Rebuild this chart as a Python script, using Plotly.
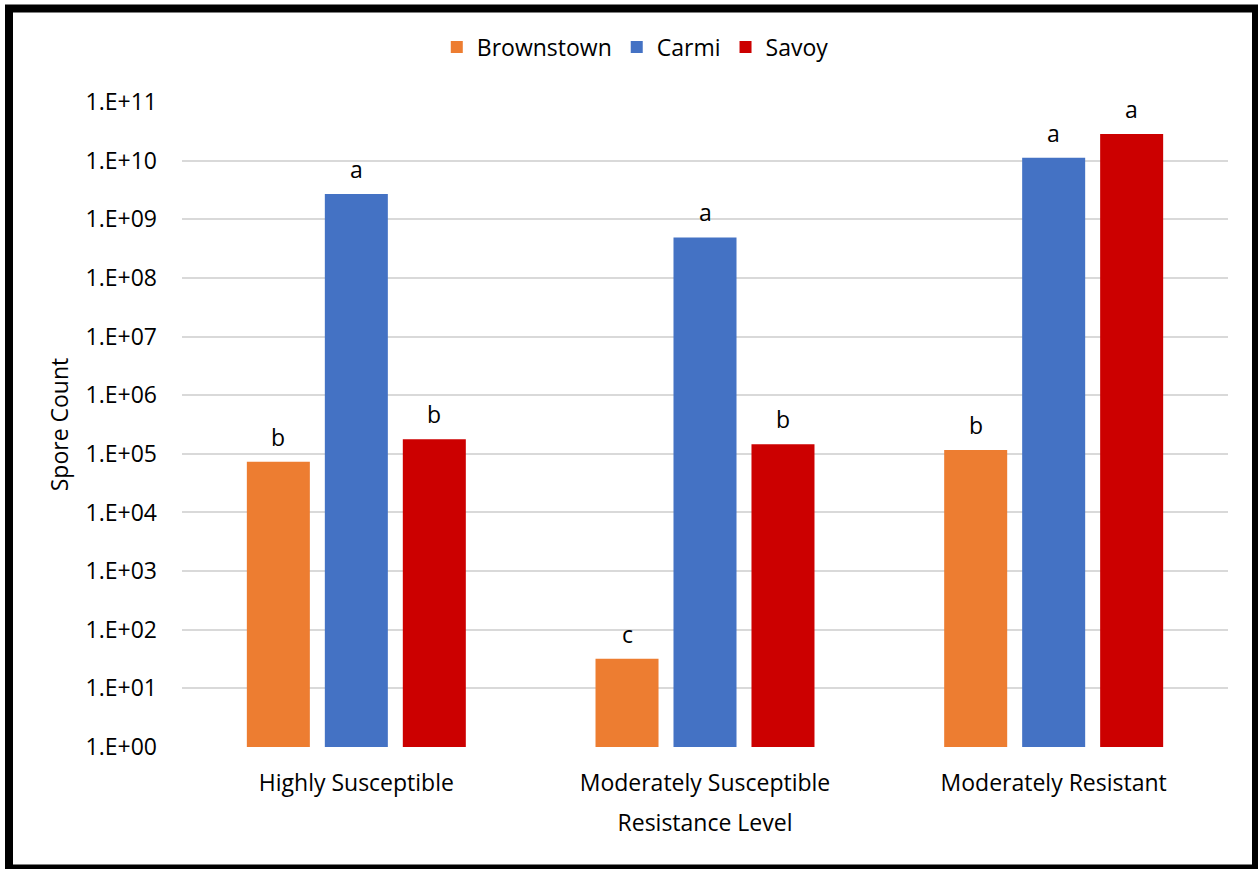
import numpy as np
import plotly.graph_objects as go

# Spore counts by resistance level and location
categories = ["Highly Susceptible", "Moderately Susceptible", "Moderately Resistant"]
locations = ["Brownstown", "Carmi", "Savoy"]
brownstown = [7.3e4, 32, 1.16e5]
carmi = [2.7e9, 4.9e8, 1.12e10]
savoy = [1.77e5, 1.45e5, 2.84e10]
brownstown_letters = ["b", "c", "b"]
carmi_letters = ["a", "a", "a"]
savoy_letters = ["b", "b", "a"]
tick_values = [10 ** k for k in range(12)]
tick_labels = ["1.E+%02d" % k for k in range(12)]

colors = ["#ED7D31", "#4472C4", "#CC0000"]
series = [brownstown, carmi, savoy]
letters = [brownstown_letters, carmi_letters, savoy_letters]

W, H = 1258, 869
L, R, T, B = 182, 30, 102, 122
FONT = "Open Sans"
FS = 23

BARGAP = 0.329
GROUPGAP = 0.192

fig = go.Figure()
for name, vals, col in zip(locations, series, colors):
    fig.add_trace(go.Bar(
        name=name, x=categories, y=vals,
        marker=dict(color=col, line=dict(width=0)),
    ))

# significance letters above each bar
slot = (1 - BARGAP) / 3
for j, (vals, labs) in enumerate(zip(series, letters)):
    for i, (v, lab) in enumerate(zip(vals, labs)):
        fig.add_annotation(
            x=i + (j - 1) * slot, y=np.log10(v), text=lab,
            xref="x", yref="y", showarrow=False,
            yanchor="bottom", yshift=7,
            font=dict(family=FONT, size=FS, color="#000000"),
        )

# outer frame around the whole chart
pw, ph = W - L - R, H - T - B
def px(x):
    return (x - L) / pw
def py(y):
    return (H - B - y) / ph
fig.add_shape(type="rect", xref="paper", yref="paper",
              x0=px(9), x1=px(1256), y0=py(8.5), y1=py(868.5),
              line=dict(color="#000000", width=8), fillcolor="rgba(0,0,0,0)",
              layer="above")

fig.update_layout(
    width=W, height=H,
    margin=dict(l=L, r=R, t=T, b=B, autoexpand=False),
    paper_bgcolor="white", plot_bgcolor="white",
    barmode="group", bargap=BARGAP, bargroupgap=GROUPGAP,
    font=dict(family=FONT, size=FS, color="#000000"),
    legend=dict(orientation="h", xref="container", x=0.505, xanchor="center",
                yref="container", y=1 - 47 / H, yanchor="middle",
                font=dict(family=FONT, size=FS), itemwidth=30,
                traceorder="normal"),
    showlegend=True,
)
fig.update_xaxes(
    showgrid=False, showline=False, zeroline=False, ticks="",
    ticklabelstandoff=20,
    tickfont=dict(family=FONT, size=FS),
    title=dict(text="Resistance Level", standoff=17,
               font=dict(family=FONT, size=FS)),
)
fig.update_yaxes(
    type="log", range=[0, 11],
    tickvals=tick_values, ticktext=tick_labels,
    showgrid=True, gridcolor="#D9D9D9", gridwidth=1.5,
    showline=False, zeroline=False, ticks="",
    ticklabelstandoff=24,
    tickfont=dict(family=FONT, size=FS),
    title=dict(text="Spore Count", standoff=10,
               font=dict(family=FONT, size=FS)),
)

fig.write_html("out.html")
